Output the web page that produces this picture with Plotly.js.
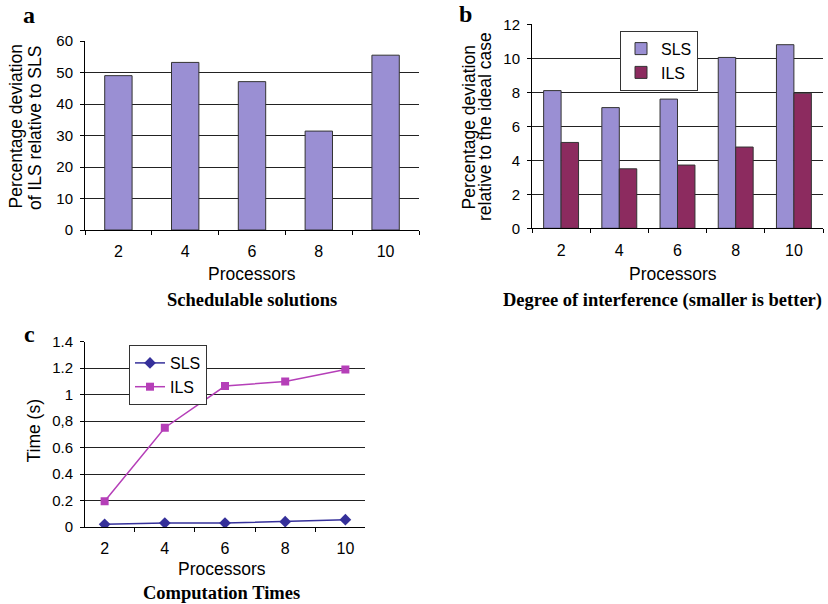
<!DOCTYPE html>
<html><head><meta charset="utf-8">
<script src="https://cdn.plot.ly/plotly-3.0.1.min.js"></script>
<style>html,body{margin:0;padding:0;background:#fff}#chart{width:828px;height:604px}</style>
</head><body><div id="chart"></div>
<script>
// ---- data ----
const processors = ['2', '4', '6', '8', '10'];
const schedulableILSvsSLS = [49, 53.2, 47.1, 31.4, 55.5];
const interferenceSLS = [8.1, 7.1, 7.6, 10.05, 10.8];
const interferenceILS = [5.05, 3.5, 3.72, 4.78, 7.95];
const timeSLS = [0.02, 0.03, 0.03, 0.04, 0.055];
const timeILS = [0.195, 0.75, 1.065, 1.1, 1.19];
const timeTickVals = [0, 0.2, 0.4, 0.6, 0.8, 1, 1.2, 1.4];
const timeTickText = ['0', '0.2', '0.4', '0.6', '0,8', '1', '1.2', '1.4'];

// ---- helpers ----
const W = 828, H = 604;
const px = x => x / W;
const py = y => 1 - y / H;
const SANS = 'Liberation Sans, Arial, sans-serif';
const SERIF = 'Liberation Serif, Times New Roman, serif';

const xBase = {
  type: 'category', showline: true, linecolor: '#000', linewidth: 1,
  ticks: 'outside', tickson: 'boundaries', ticklen: 4, tickcolor: '#000',
  showgrid: false, zeroline: false, tickfont: {family: SANS, size: 16, color: '#000'},
  ticklabelstandoff: 7, fixedrange: true
};
const yBase = {
  showline: true, linecolor: '#000', linewidth: 1,
  ticks: 'outside', ticklen: 4, tickcolor: '#000',
  showgrid: true, gridcolor: '#222', gridwidth: 1, zeroline: false,
  tickfont: {family: SANS, size: 15, color: '#000'}, ticklabelstandoff: 4, fixedrange: true
};

const barLine = {color: '#333', width: 1};

const traces = [
  {type: 'bar', x: processors, y: schedulableILSvsSLS, xaxis: 'x', yaxis: 'y',
   width: 0.41, marker: {color: '#9a8fd3', line: barLine}, showlegend: false, name: 'ILS vs SLS'},
  {type: 'bar', x: processors, y: interferenceSLS, xaxis: 'x2', yaxis: 'y2', name: 'SLS',
   width: 0.3, offset: -0.3, marker: {color: '#9a8fd3', line: barLine}, legend: 'legend'},
  {type: 'bar', x: processors, y: interferenceILS, xaxis: 'x2', yaxis: 'y2', name: 'ILS',
   width: 0.3, offset: 0, marker: {color: '#8c2b5f', line: barLine}, legend: 'legend'},
  {type: 'scatter', mode: 'lines+markers', x: processors, y: timeSLS, xaxis: 'x3', yaxis: 'y3',
   name: 'SLS', line: {color: '#35309a', width: 1.5}, marker: {symbol: 'diamond', size: 9, color: '#35309a'},
   legend: 'legend2'},
  {type: 'scatter', mode: 'lines+markers', x: processors, y: timeILS, xaxis: 'x3', yaxis: 'y3',
   name: 'ILS', line: {color: '#b53fb8', width: 1.5}, marker: {symbol: 'square', size: 8, color: '#b53fb8'},
   legend: 'legend2'}
];

function ann(text, x, y, opts) {
  return Object.assign({
    text: text, x: px(x), y: py(y), xref: 'paper', yref: 'paper',
    xanchor: 'center', yanchor: 'middle', showarrow: false,
    font: {family: SANS, size: 17.5, color: '#000'}
  }, opts || {});
}
const serifBold = s => ({family: SERIF, size: s, color: '#000', weight: 'bold'});

const layout = {
  width: W, height: H, margin: {l: 0, r: 0, t: 0, b: 0},
  paper_bgcolor: '#fff', plot_bgcolor: '#fff', barmode: 'group',
  showlegend: true,
  xaxis: Object.assign({}, xBase, {domain: [px(85), px(419)], anchor: 'y', categoryarray: processors}),
  yaxis: Object.assign({}, yBase, {domain: [py(230), py(41)], anchor: 'x', range: [0, 60], dtick: 10}),
  xaxis2: Object.assign({}, xBase, {domain: [px(532), px(823)], anchor: 'y2', categoryarray: processors}),
  yaxis2: Object.assign({}, yBase, {domain: [py(228.3), py(24.3)], anchor: 'x2', range: [0, 12], dtick: 2}),
  xaxis3: Object.assign({}, xBase, {domain: [px(85), px(365)], anchor: 'y3', categoryarray: processors}),
  yaxis3: Object.assign({}, yBase, {domain: [py(527), py(341.7)], anchor: 'x3', range: [0, 1.4],
    tickmode: 'array', tickvals: timeTickVals, ticktext: timeTickText}),
  legend: {x: px(620), y: py(30.7), xanchor: 'left', yanchor: 'top', bgcolor: '#fff',
    bordercolor: '#333', borderwidth: 1, font: {family: SANS, size: 16, color: '#000'}, traceorder: 'normal'},
  legend2: {x: px(129), y: py(345), xanchor: 'left', yanchor: 'top', bgcolor: '#fff',
    bordercolor: '#333', borderwidth: 1, font: {family: SANS, size: 16, color: '#000'}, traceorder: 'normal'},
  annotations: [
    ann('a', 29, 15, {font: serifBold(24)}),
    ann('b', 465, 14, {font: serifBold(24)}),
    ann('c', 29, 334, {font: serifBold(24)}),
    ann('Percentage deviation', 15.5, 127, {textangle: -90}),
    ann('of ILS relative to SLS', 35, 128, {textangle: -90}),
    ann('Processors', 252, 274),
    ann('Schedulable solutions', 252, 300, {font: serifBold(18.5)}),
    ann('Percentage deviation', 468.5, 127, {textangle: -90}),
    ann('relative to the ideal case', 485, 127, {textangle: -90}),
    ann('Processors', 673, 274),
    ann('Degree of interference (smaller is better)', 662, 300, {font: serifBold(18.5)}),
    ann('Time (s)', 33.5, 431, {textangle: -90}),
    ann('Processors', 222, 569),
    ann('Computation Times', 221, 593, {font: serifBold(18.5)})
  ]
};

Plotly.newPlot('chart', traces, layout, {staticPlot: true, displayModeBar: false});
</script>
</body></html>
